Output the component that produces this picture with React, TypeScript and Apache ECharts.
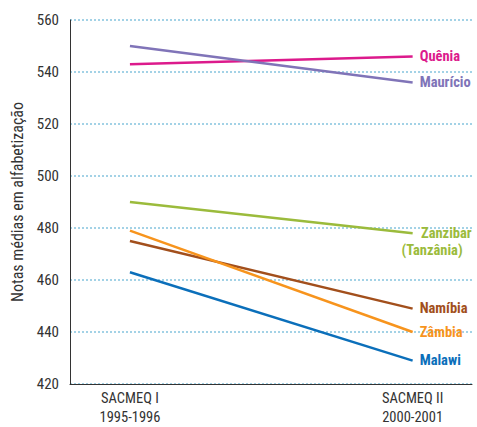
import React, { useEffect, useRef } from "react";
import * as echarts from "echarts";

const periods = ["SACMEQ I\n1995-1996", "SACMEQ II\n2000-2001"];
const countries = ["Quênia", "Maurício", "Zanzibar", "Namíbia", "Zâmbia", "Malawi"];
const labelTexts = ["Quênia", "Maurício", "{a|Zanzibar}\n{b|(Tanzânia)}", "Namíbia", "Zâmbia", "Malawi"];
const quenia = [543, 546];
const mauricio = [550, 536];
const zanzibar = [490, 478];
const namibia = [475, 449];
const zambia = [479, 440];
const malawi = [463, 429];
const seriesValues = [quenia, mauricio, zanzibar, namibia, zambia, malawi];
const colors = ["#dc1a8c", "#8074b8", "#9bbb3c", "#a24f1c", "#f7941d", "#0b6fba"];
const yTicks = { min: 420, max: 560, interval: 20 };

const FONT = "'Roboto Condensed', 'Liberation Sans Narrow', Roboto, sans-serif";
const LBL = 14.5;

export default function App() {
  const ref = useRef<HTMLDivElement>(null);
  useEffect(() => {
    if (!ref.current) return;
    const chart = echarts.init(ref.current, null, { renderer: "svg" });
    const series = countries.map((name, i) => {
      const isZ = i === 2;
      return {
        name,
        type: "line",
        data: seriesValues[i].map((v, j) => [j, v]),
        symbol: "none",
        lineStyle: { color: colors[i], width: 2.5 },
        itemStyle: { color: colors[i] },
        endLabel: {
          show: true,
          formatter: () => labelTexts[i],
          color: colors[i],
          fontFamily: FONT,
          fontWeight: "bold",
          fontSize: LBL,
          distance: 7,
          ...(isZ
            ? {
                align: "right",
                verticalAlign: "top",
                offset: [52, -8],
                lineHeight: 17,
                rich: {
                  a: { color: colors[i], fontFamily: FONT, fontWeight: "bold", fontSize: LBL, lineHeight: 17 },
                  b: { color: colors[i], fontFamily: FONT, fontWeight: "bold", fontSize: LBL, lineHeight: 17, padding: [0, 9, 0, 0] },
                },
              }
            : {}),
        },
      };
    });
    chart.setOption({
      animation: false,
      grid: { left: 70, top: 20, right: 5, bottom: 43, containLabel: false, outerBoundsMode: "none" },
      xAxis: {
        type: "value",
        min: -0.212,
        max: 1.21,
        splitLine: { show: false },
        axisLine: { show: true, onZero: false, lineStyle: { color: "#333", width: 1 } },
        axisTick: { show: false },
        axisLabel: {
          customValues: [0, 1],
          formatter: (v: number) => periods[Math.round(v)] || "",
          color: "#333",
          fontFamily: FONT,
          fontSize: 14.5,
          lineHeight: 19,
          margin: 5,
        },
      },
      yAxis: {
        type: "value",
        min: yTicks.min,
        max: yTicks.max,
        interval: yTicks.interval,
        name: "Notas médias em alfabetização",
        nameLocation: "middle",
        nameGap: 44,
        nameTextStyle: { color: "#333", fontFamily: FONT, fontSize: 16 },
        axisLine: { show: true, onZero: false, lineStyle: { color: "#333", width: 1 } },
        axisTick: { show: false },
        axisLabel: { color: "#333", fontFamily: FONT, fontSize: 15, margin: 11 },
        splitLine: { show: true, lineStyle: { color: "#a3d2e6", width: 2, type: [2, 2] } },
      },
      series,
    });
    return () => chart.dispose();
  }, []);
  return <div ref={ref} style={{ width: 477, height: 427, position: "absolute", left: 0, top: 0 }} />;
}
